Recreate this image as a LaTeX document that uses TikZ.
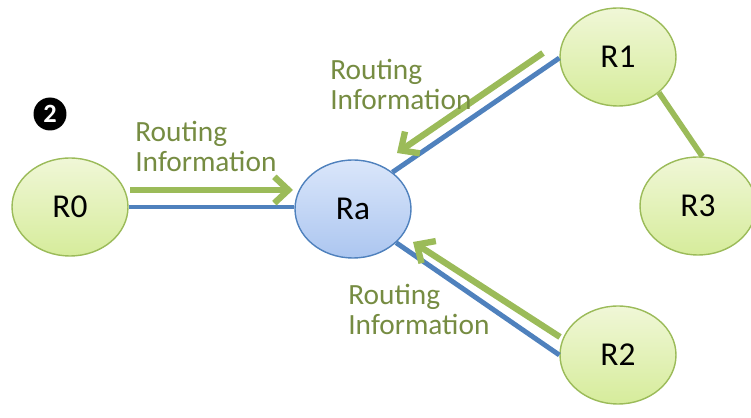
\documentclass[tikz,border=0pt]{standalone}
\usepackage{fontspec}
\setmainfont{Carlito}
\usetikzlibrary{shapes.geometric}
\usetikzlibrary{arrows.meta}

\definecolor{linkblue}{RGB}{79,129,189}
\definecolor{infogreen}{RGB}{155,187,89}
\definecolor{infotext}{RGB}{118,140,66}

\tikzset{
  router/.style={ellipse, draw=infogreen, line width=0.8pt,
    top color={rgb,255:red,240;green,247;blue,215},
    bottom color={rgb,255:red,214;green,236;blue,155},
    minimum width=2.32cm, minimum height=1.96cm, inner sep=0pt,
    font=\fontsize{19}{22}\selectfont},
  hub/.style={router, draw=linkblue,
    top color={rgb,255:red,218;green,230;blue,250},
    bottom color={rgb,255:red,172;green,198;blue,240}},
  link/.style={draw=linkblue, line width=2.8pt},
  info/.style={draw=infogreen, line width=3.6pt,
    -{Straight Barb[length=8pt,width=15pt]}},
  infolabel/.style={anchor=north west, inner sep=0pt, align=left,
    text=infotext, font=\fontsize{16.7}{17}\selectfont}
}

\begin{document}
\begin{tikzpicture}[x=0.02cm,y=-0.02cm]
  \useasboundingbox (0,0) rectangle (751,418);

  % routers
  \node[router] (R0) at (70,207) {R0};
  \node[hub] (Ra) at (353,209) {Ra};
  \node[router] (R1) at (618,57) {R1};
  \node[router] (R2) at (618,355) {R2};
  \node[router] (R3) at (698,206) {R3};

  \node[circle, fill=black, minimum size=0.66cm, inner sep=0pt, text=white,
    font=\bfseries\fontsize{15}{15}\selectfont] (num) at (50,114) {2};

  % links
  \draw[link] (R0.east) -- (R0.east -| Ra.west);
  \draw[link] (Ra.43) -- (R1.181);
  \draw[link] (Ra.-38) -- (R2.180);
  \draw[draw=infogreen, line width=3.2pt] (R1.-41) -- (R3.85);

  % routing information
  \coordinate (g0s) at (130,190);
  \coordinate (g0e) at (293,190);
  \coordinate (g1s) at (543,53);
  \coordinate (g1e) at (397,153);
  \coordinate (g2s) at (560,337);
  \coordinate (g2e) at (413,242);
  \draw[info] (g0s) -- (g0e);
  \draw[info] (g1s) -- (g1e);
  \draw[info] (g2s) -- (g2e);

  \node[infolabel] (lab0) at (135,121) {Routing\\Information};
  \node[infolabel] (lab1) at (330,59) {Routing\\Information};
  \node[infolabel] (lab2) at (348,284) {Routing\\Information};
\end{tikzpicture}
\end{document}
